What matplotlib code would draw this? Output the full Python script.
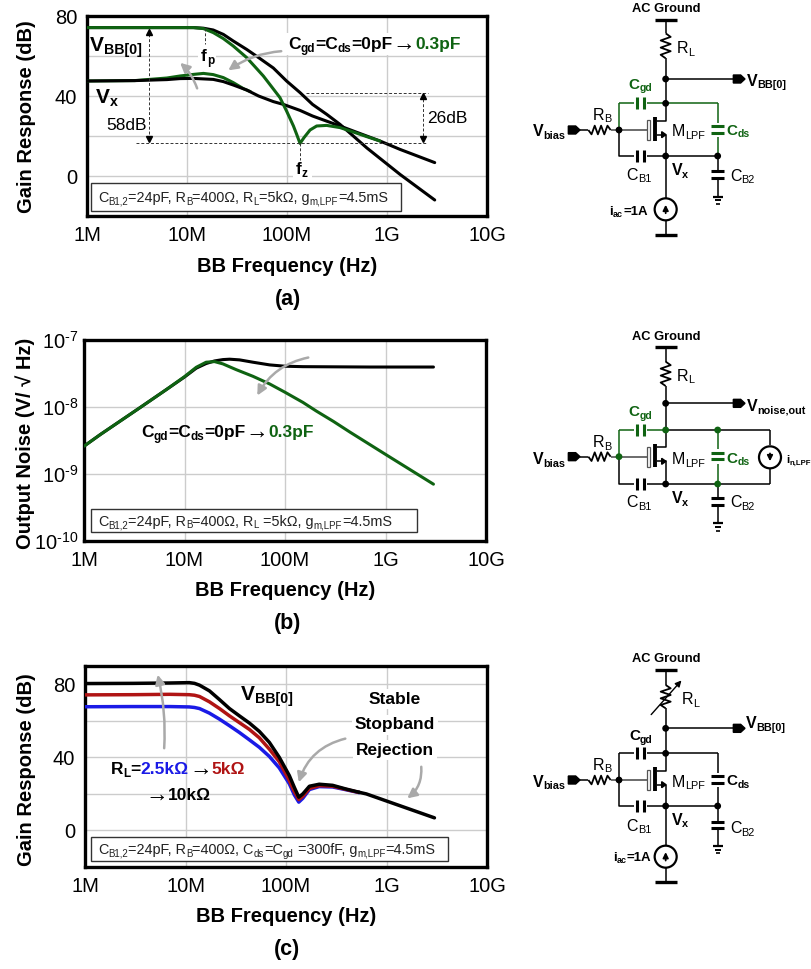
import numpy as np
import matplotlib
matplotlib.use('Agg')
import matplotlib.pyplot as plt
from matplotlib.patches import FancyArrowPatch, Rectangle, Circle, Polygon

plt.rcParams['font.family'] = ['Liberation Sans', 'DejaVu Sans']
plt.rcParams['mathtext.fontset'] = 'custom'
plt.rcParams['mathtext.rm'] = 'Liberation Sans'
plt.rcParams['mathtext.it'] = 'Liberation Sans'
plt.rcParams['mathtext.bf'] = 'Liberation Sans:bold'

GREEN = '#0f6312'
RED = '#b01414'
BLUE = '#1a1ae6'
GRAY = '#a9a9a9'
GRID = '#cccccc'

# (a) gain response, frequency in MHz and gain in dB
a_vbb_freq = [1, 3, 6.3, 10, 11.6, 14.6, 18.3, 23.1, 29, 39.5, 52, 73, 99, 135, 180, 250, 339, 460, 630, 1350, 3000]
a_vbb = [74.2, 74.2, 74.2, 74.2, 74.2, 73.9, 73, 70.8, 67.5, 63.3, 59.2, 54, 47.5, 41.7, 35.8, 30.8, 25.8, 20, 14, 0.8, -12]
a_vx_freq = [1, 3, 6.3, 8.5, 11.6, 18.3, 23.1, 29, 39.5, 52, 73, 92, 135, 180, 339, 460, 851, 1350, 3000]
a_vx = [47.5, 47.7, 48.2, 48.7, 48.8, 48.3, 47.2, 45.5, 43, 40, 37.2, 35.8, 32.8, 30, 25, 22.5, 17.5, 13.3, 6.7]
a_vbb_c_freq = [1, 3, 6.3, 8.5, 11.6, 14.6, 18.3, 23.1, 29, 39.5, 47.7, 58, 70, 85, 99, 116, 125, 135, 148, 170, 198,
                249, 339, 460, 626, 851]
a_vbb_c = [74.2, 74.2, 74.2, 74.2, 74.2, 73.7, 71.7, 68.7, 65, 59.2, 54.7, 50, 44.7, 39.2, 32.5, 25, 20.8, 16.3,
           19.2, 23, 25, 25.3, 24.2, 22, 19.7, 17.5]
a_vx_c_freq = [1, 3, 6.3, 8.5, 11.6, 14.6, 18.3, 23.1, 29, 36.6, 43]
a_vx_c = [47.5, 47.7, 49, 50, 50.8, 51.3, 50.7, 49.2, 46.7, 43.7, 42.2]

# (b) output noise, frequency in MHz and V/sqrt(Hz)
b_freq = [1, 1.46, 3.65, 6.7, 10, 13.1, 16.4, 19.9, 24.1, 28.1, 35.3, 48, 70.3, 100, 151, 698, 3000]
b_noise = [2.6e-9, 3.9e-9, 9.9e-9, 1.85e-8, 2.8e-8, 3.8e-8, 4.45e-8, 4.87e-8, 5.1e-8, 5.17e-8, 5.05e-8,
           4.66e-8, 4.25e-8, 4.06e-8, 4e-8, 3.95e-8, 3.95e-8]
b_freq_c = [1, 1.46, 3.65, 6.7, 10, 13.1, 16.4, 19.9, 24.1, 32.7, 48, 70.3, 100, 151, 205, 303, 445, 1030, 3000]
b_noise_c = [2.6e-9, 3.9e-9, 9.9e-9, 1.85e-8, 2.84e-8, 3.92e-8, 4.66e-8, 4.76e-8, 4.4e-8, 3.61e-8, 2.87e-8,
             2.21e-8, 1.66e-8, 1.17e-8, 8.7e-9, 6.1e-9, 4.2e-9, 1.91e-9, 7.05e-10]

# (c) gain response for three load resistors
c_freq = [1, 3, 7, 10.9, 12.3, 13.8, 17.3, 21.8, 27.4, 34.4, 43.2, 54.3, 68.3, 85.8, 108, 121, 134, 147, 171, 214, 291, 394, 534]
c_10k = [80.4, 80.5, 80.7, 80.9, 80.5, 79.5, 76.4, 71.6, 66.7, 62.7, 58.8, 54.2, 48.2, 40, 30, 23.6, 18.2, 20, 24.2, 25.3, 24.7, 22.7, 20.9]
c_5k = [74.2, 74.3, 74.5, 74.3, 74, 73.3, 70.4, 66.7, 62.7, 59, 55.3, 50.7, 44.5, 37.6, 27.3, 21.3, 16.9, 18.7, 23, 24.5, 24.2, 22.5, 20.8]
c_2k5 = [67.7, 67.8, 67.8, 67.6, 67.3, 66.7, 64.2, 60.9, 57.3, 53.6, 49.6, 45.5, 40.5, 34.2, 25.5, 19.5, 15.5, 17.6, 22.4, 24, 23.8, 22.3, 20.7]
c_tail_freq = [534, 630, 1350, 3000]
c_tail = [20.9, 20, 13.6, 6.9]

x_ticks = [1e6, 1e7, 1e8, 1e9, 1e10]
x_labels = ['1M', '10M', '100M', '1G', '10G']

W, H = 812, 969
fig = plt.figure(figsize=(W / 100, H / 100), dpi=100)
renderer = fig.canvas.get_renderer()


def make_axes(left, top, right, bottom, ylabel, label_x, label_cy, xlabel_cy):
    ax = fig.add_axes([left / W, 1 - bottom / H, (right - left) / W, (bottom - top) / H])
    ax.set_xscale('log')
    ax.set_xlim(1e6, 1e10)
    ax.set_xticks(x_ticks)
    ax.set_xticklabels(x_labels)
    ax.minorticks_off()
    ax.grid(True, color=GRID, lw=1.0)
    ax.set_axisbelow(True)
    ax.tick_params(length=0, labelsize=14.5, pad=7)
    for s in ax.spines.values():
        s.set_linewidth(2.4)
    ax.set_xlabel('BB Frequency (Hz)', fontsize=14.5, fontweight='bold', va='center')
    ax.xaxis.set_label_coords(0.5, -(xlabel_cy - bottom) / (bottom - top))
    ax.set_ylabel(ylabel, fontsize=14.5, fontweight='bold', va='center')
    ax.yaxis.set_label_coords((label_x - left) / (right - left), (bottom - label_cy) / (bottom - top))
    return ax


def curve(ax, f, v, color, lw=2.2, z=3):
    ax.plot(np.array(f) * 1e6, v, color=color, lw=lw, zorder=z, solid_joinstyle='round', solid_capstyle='round')


ax_a = make_axes(87, 16, 487, 216, 'Gain Response (dB)', 27, 117, 266)
ax_a.set_ylim(-20, 80)
ax_a.set_yticks([-20, 0, 20, 40, 60, 80])
ax_a.set_yticklabels(['', '0', '', '40', '', '80'])
curve(ax_a, a_vbb_freq, a_vbb, 'black', z=3)
curve(ax_a, a_vx_c_freq, a_vx_c, GREEN, z=4)
curve(ax_a, a_vx_freq, a_vx, 'black', z=5)
curve(ax_a, a_vbb_c_freq, a_vbb_c, GREEN, z=6)

ax_b = make_axes(84, 340, 486, 541, 'Output Noise (V/ \u221a Hz)', 25, 443, 590)
ax_b.set_yscale('log')
ax_b.set_ylim(1e-10, 1e-7)
ax_b.set_yticks([1e-10, 1e-9, 1e-8, 1e-7])
ax_b.set_yticklabels(['$10^{\\text{-}10}$', '$10^{\\text{-}9}$', '$10^{\\text{-}8}$', '$10^{\\text{-}7}$'])
ax_b.minorticks_off()
ax_b.tick_params(axis='y', pad=4)
curve(ax_b, b_freq, b_noise, 'black', z=3)
curve(ax_b, b_freq_c, b_noise_c, GREEN, z=4)

ax_c = make_axes(85, 666, 487, 867, 'Gain Response (dB)', 27, 770, 917)
ax_c.set_ylim(-20, 90)
ax_c.set_yticks([0, 20, 40, 60, 80])
ax_c.set_yticklabels(['0', '', '40', '', '80'])
curve(ax_c, c_freq, c_2k5, BLUE, lw=2.5, z=3)
curve(ax_c, c_freq, c_5k, RED, lw=2.5, z=4)
curve(ax_c, c_freq, c_10k, 'black', lw=2.5, z=5)
curve(ax_c, c_tail_freq, c_tail, 'black', lw=2.5, z=5)

# overlay in image pixels for annotations and schematics
ov = fig.add_axes([0, 0, 1, 1], zorder=10)
ov.set_xlim(0, W)
ov.set_ylim(H, 0)
ov.axis('off')
ov.patch.set_alpha(0)


def text_w(s, size, weight):
    t = ov.text(0, 0, s + '|', fontsize=size, fontweight=weight)
    w1 = t.get_window_extent(renderer).width
    t.set_text('|')
    w2 = t.get_window_extent(renderer).width
    t.remove()
    return w1 - w2


def rich(x, cy, parts, size, weight='bold', color='black', bg=None):
    # strings starting with _ are subscripts, tuples carry their own colour
    em = size * 100 / 72
    base = cy + 0.36 * em
    if bg is not None:
        ov.add_patch(Rectangle((bg[0], bg[1]), bg[2] - bg[0], bg[3] - bg[1], fc='white', ec='none', zorder=1))
    for p in parts:
        col = color
        if isinstance(p, tuple):
            p, col = p
        wt = weight
        if p.startswith('_'):
            s = p[1:]
            sz = size * 0.68
            yy = base + 0.16 * em
        elif p == '\u2192':
            # the long thin arrow of the reference
            s = p
            sz = size * 1.3
            yy = base + 0.06 * em
            wt = 'normal'
        else:
            s = p
            sz = size
            yy = base
        ov.text(x, yy, s, fontsize=sz, fontweight=wt, color=col, ha='left', va='baseline', zorder=5)
        x += text_w(s, sz, wt)
    return x


def gray_arrow(p0, p1, rad):
    ov.add_patch(FancyArrowPatch(p0, p1, connectionstyle='arc3,rad=%g' % rad, arrowstyle='-|>',
                                 mutation_scale=14, color=GRAY, lw=1.8, zorder=6))


def dashed(xs, ys):
    ov.plot(xs, ys, color='#333333', lw=0.7, ls=(0, (3, 2)), zorder=4)


def param_box(x0, y0, x1, y1, tx, parts, size):
    ov.add_patch(Rectangle((x0, y0), x1 - x0, y1 - y0, fc='white', ec='#333333', lw=1.0, zorder=2))
    rich(tx, (y0 + y1) / 2, parts, size, weight='normal', color='#222222')


# panel (a) notes
rich(90, 43, ['V', '_BB[0]'], 15)
rich(96, 95, ['V', '_x'], 15)
rich(106, 124, ['58dB'], 12.5, weight='normal')
rich(427, 117, ['26dB'], 12.5, weight='normal')
rich(201, 55, ['f', '_p'], 12.5, bg=(198, 48, 216, 66))
rich(296, 168, ['f', '_z'], 12.5, bg=(293, 160, 312, 182))
rich(288, 43, ['C', '_gd', '=C', '_ds', '=0pF', '\u2192', ('0.3pF', GREEN)], 12.5, bg=(283, 33, 462, 55))
dashed([136, 427], [142.5, 142.5])
dashed([306, 428], [92.5, 92.5])
dashed([149, 149], [29, 141])
dashed([423, 423], [94, 141])
dashed([205.5, 205.5], [28, 44])
dashed([300.5, 300.5], [143, 160])
ov.plot([149, 423], [32, 96], ls='none', marker='^', ms=5, color='black', zorder=5)
ov.plot([149, 423], [139, 139], ls='none', marker='v', ms=5, color='black', zorder=5)
gray_arrow((284, 51), (226, 72), 0.15)
gray_arrow((198, 91), (178, 61), 0.15)
param_box(91, 183, 401, 211, 98,
          ['C', '_B1,2', '=24pF, R', '_B', '=400\u03a9, R', '_L', '=5k\u03a9, g', '_m,LPF', '=4.5mS'], 10.4)
ov.text(288, 300, '(a)', fontsize=15.5, fontweight='bold', ha='center', va='center')

# panel (b) notes
rich(141, 431, ['C', '_gd', '=C', '_ds', '=0pF', '\u2192', ('0.3pF', GREEN)], 12.5)
gray_arrow((311, 357), (256, 398), 0.25)
param_box(91, 509, 417, 532, 98,
          ['C', '_B1,2', '=24pF, R', '_B', '=400\u03a9, R', '_L', ' =5k\u03a9, g', '_m,LPF', '=4.5mS'], 10.4)
ov.text(288, 623, '(b)', fontsize=15.5, fontweight='bold', ha='center', va='center')

# panel (c) notes
rich(241, 692, ['V', '_BB[0]'], 15)
for label, cy in [('Stable', 699), ('Stopband', 725), ('Rejection', 750)]:
    ov.text(395, cy, label, fontsize=12.5, fontweight='bold', ha='center', va='center', zorder=5,
            bbox=dict(fc='white', ec='none', pad=2))
rich(111, 768, ['R', '_L', '=', ('2.5k\u03a9', BLUE), '\u2192', ('5k\u03a9', RED)], 12.5)
rich(145, 794, ['\u2192', '10k\u03a9'], 12.5)
gray_arrow((164, 751), (157, 672), 0.08)
gray_arrow((348, 738), (298, 785), 0.3)
gray_arrow((421, 764), (405, 800), -0.3)
param_box(91, 837, 448, 861, 98,
          ['C', '_B1,2', '=24pF, R', '_B', '=400\u03a9, C', '_ds', '=C', '_gd', ' =300fF, g', '_m,LPF', '=4.5mS'], 10.4)
ov.text(287, 950, '(c)', fontsize=15.5, fontweight='bold', ha='center', va='center')


def schematic(y0, top_bar, res, out, top, gate, bot, cb2, gnd, src, labels, col=GREEN,
              noise=False, variable=False):
    # coordinates below are 3x image pixels relative to (520, y0)
    def P(x, y):
        return 520 + x / 3, y0 + y / 3

    def wire(pts, c='black', lw=1.1):
        xs, ys = zip(*[P(*p) for p in pts])
        ov.plot(xs, ys, color=c, lw=lw, zorder=3, solid_capstyle='butt')

    def node(x, y, c='black'):
        ov.add_patch(Circle(P(x, y), 2.7, color=c, zorder=4))

    def head(x0, y):
        pts = [(x0, y - 12), (x0 + 22, y - 12), (x0 + 35, y), (x0 + 22, y + 12), (x0, y + 12)]
        ov.add_patch(Polygon([P(*p) for p in pts], color='black', zorder=4))

    def cap_v(x, y, c):
        # plates standing up on a horizontal wire
        wire([(x - 10, y - 18), (x - 10, y + 18)], c, 2.2)
        wire([(x + 10, y - 18), (x + 10, y + 18)], c, 2.2)

    def cap_h(x, y, c):
        # plates lying on a vertical wire
        wire([(x - 20, y - 10), (x + 20, y - 10)], c, 2.2)
        wire([(x - 20, y + 10), (x + 20, y + 10)], c, 2.2)

    wire([(405, top_bar), (470, top_bar)], 'black', 2.4)
    wire([(437, top_bar), (437, res[0])])
    n = 6
    ys = np.linspace(res[0], res[1], n + 2)
    zig = [(437, ys[0])] + [(437 + (15 if i % 2 == 0 else -15), ys[i + 1]) for i in range(n)] + [(437, ys[-1])]
    wire(zig, 'black', 1.3)
    if variable:
        ov.add_patch(FancyArrowPatch(P(388, res[1] + 25), P(490, res[0] - 20), arrowstyle='-|>',
                                     mutation_scale=9, color='black', lw=1.0, zorder=4))
    wire([(437, res[1]), (437, top)])
    wire([(437, out), (645, out)])
    node(437, out)
    head(640, out)

    # top and bottom rails with caps
    wire([(297, top), (342, top)], col)
    wire([(382, top), (437, top)], col)
    cap_v(362, top, col)
    wire([(297, top), (297, gate)], col)
    wire([(297, gate), (297, bot), (342, bot)])
    wire([(382, bot), (437, bot)])
    cap_v(362, bot, 'black')
    right_end = 750 if noise else 593
    wire([(437, bot), (right_end, bot)])
    if noise:
        wire([(437, top), (750, top)])
        wire([(750, top), (750, gate - 35)])
        wire([(750, gate + 35), (750, bot)])
        ov.add_patch(Circle(P(750, gate + 2), 11, fc='white', ec='black', lw=1.6, zorder=3))
        ov.add_patch(FancyArrowPatch(P(750, gate - 18), P(750, gate + 22), arrowstyle='-|>',
                                     mutation_scale=8, color='black', lw=1.3, zorder=4))
        node(593, top, col)
    else:
        wire([(437, top), (593, top)], col)
    wire([(593, top), (593, gate - 22)], col)
    wire([(593, gate + 22), (593, bot)], col)
    cap_h(593, gate - 2, col)
    node(437, top, col if col != 'black' and noise else 'black')
    node(297, gate, col if noise else 'black')
    node(437, bot)
    node(593, bot, col if noise else 'black')

    # CB2 and ground
    wire([(593, bot), (593, cb2 - 10)])
    wire([(593, cb2 + 10), (593, gnd)])
    cap_h(593, cb2, 'black')
    wire([(578, gnd), (610, gnd)], 'black', 1.6)
    wire([(584, gnd + 11), (604, gnd + 11)], 'black', 1.4)
    wire([(589, gnd + 22), (599, gnd + 22)], 'black', 1.2)

    # bias input
    head(145, gate)
    wire([(180, gate), (205, gate)])
    xs = np.linspace(205, 272, 8)
    zig = [(xs[i], gate + (0 if i in (0, 7) else (13 if i % 2 else -13))) for i in range(8)]
    wire(zig, 'black', 1.3)
    wire([(272, gate), (380, gate)], '#444444')

    # transistor
    ov.add_patch(Rectangle(P(380, gate - 30), 3, 20, fc='white', ec='#555555', lw=0.9, zorder=3))
    wire([(405, gate - 38), (405, gate + 32)], 'black', 2.8)
    wire([(410, gate - 28), (437, gate - 28), (437, top)])
    wire([(410, gate + 14), (437, gate + 14), (437, bot)])
    ov.add_patch(Polygon([P(438, gate + 14), P(425, gate + 5), P(425, gate + 23)], color='black', zorder=4))

    # current source
    if src is not None:
        c, bar = src
        wire([(437, bot), (437, c - 33)])
        wire([(437, c + 33), (437, bar)])
        wire([(405, bar), (470, bar)], 'black', 2.4)
        ov.add_patch(Circle(P(437, c), 11, fc='white', ec='black', lw=1.6, zorder=3))
        ov.add_patch(FancyArrowPatch(P(437, c + 20), P(437, c - 22), arrowstyle='-|>',
                                     mutation_scale=8, color='black', lw=1.3, zorder=4))

    # labels: parts, x, y, size, weight, colour
    for parts, x, y, size, weight, c in labels:
        px, py = P(x, y)
        rich(px, py, parts, size, weight=weight, color=c)


def std_labels(ac, rl, vout, cgd, rb, gate_y, cb1, vx, cb2, iac, col, vout_parts=('V', '_BB[0]')):
    out = [(['AC Ground'], 337, ac, 9.3, 'bold', 'black'),
           (['R', '_L'], rl[0], rl[1], 11.5, 'normal', 'black'),
           (list(vout_parts), vout[0], vout[1], 11.5, 'bold', 'black'),
           (['C', '_gd'], cgd[0], cgd[1], 11, 'bold', col),
           (['R', '_B'], 218, rb, 11.5, 'normal', 'black'),
           (['V', '_bias'], 38, gate_y, 11.5, 'bold', 'black'),
           (['M', '_LPF'], 455, gate_y, 11.5, 'normal', 'black'),
           (['C', '_ds'], 620, gate_y - 4, 11, 'bold', col),
           (['C', '_B1'], 320, cb1, 11.5, 'normal', 'black'),
           (['V', '_x'], 455, vx, 11.5, 'bold', 'black'),
           (['C', '_B2'], 630, cb2, 11.5, 'normal', 'black')]
    if iac is not None:
        out.append((['i', '_ac', '=1A'], iac[0], iac[1], 9.5, 'bold', 'black'))
    return out


schematic(0, 60, (100, 175), 237, 310, 390, 468, 523, 590, (628, 705),
          std_labels(22, (470, 142), (680, 240), (325, 250), 342, 392, 522, 508, 525, (268, 630), GREEN))

noise_labels = std_labels(45, (470, 165), (680, 256), (325, 272), 365, 415, 545, 532, 545, None, GREEN,
                          vout_parts=('V', '_noise,out'))
noise_labels.append((['i', '_n,LPF'], 798, 418, 8.2, 'bold', 'black'))
schematic(320, 82, (125, 198), 250, 330, 410, 492, 545, 610, None, noise_labels, noise=True)

schematic(640, 90, (135, 205), 265, 340, 420, 498, 555, 618, (650, 725),
          std_labels(52, (485, 175), (678, 248), (327, 285), 372, 423, 555, 537, 562, (278, 648), 'black'),
          col='black', variable=True)

fig.savefig('out.png', dpi=100)
